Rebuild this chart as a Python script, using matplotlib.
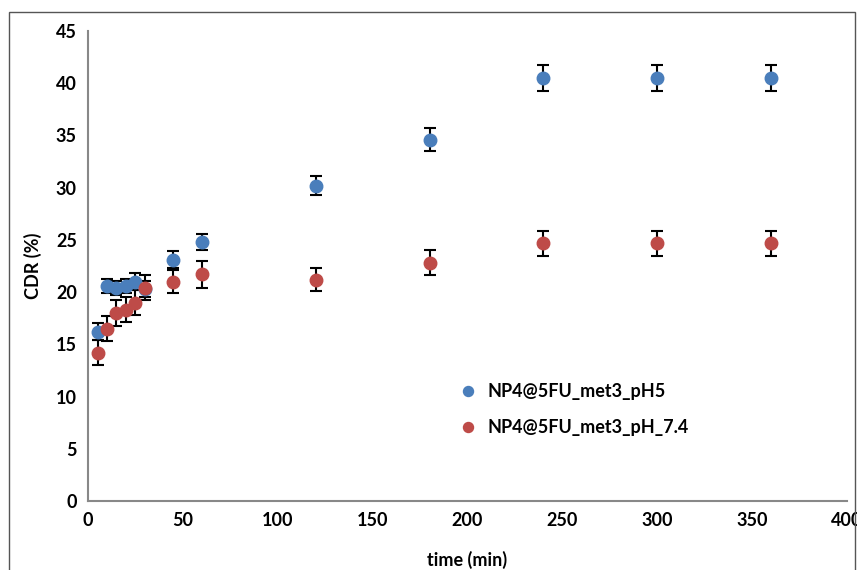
import matplotlib.pyplot as plt
from matplotlib.patches import Rectangle

# data
time = [5, 10, 15, 20, 25, 30, 45, 60, 120, 180, 240, 300, 360]
cdr_ph5 = [16.2, 20.6, 20.4, 20.6, 21.0, 20.3, 23.1, 24.8, 30.2, 34.6, 40.5, 40.5, 40.5]
err_ph5 = [0.8, 0.7, 0.7, 0.7, 0.8, 0.8, 0.8, 0.8, 0.9, 1.1, 1.2, 1.2, 1.2]
cdr_ph74 = [14.2, 16.5, 18.0, 18.3, 19.0, 20.4, 21.0, 21.7, 21.2, 22.8, 24.7, 24.7, 24.7]
err_ph74 = [1.2, 1.2, 1.2, 1.2, 1.2, 1.2, 1.1, 1.3, 1.1, 1.2, 1.2, 1.2, 1.2]

plt.rcParams['font.family'] = ['Lato', 'DejaVu Sans']

fig = plt.figure(figsize=(8.57, 5.70), dpi=100)
ax = fig.add_axes([0.1027, 0.121, 0.8856, 0.8246])

ax.errorbar(time, cdr_ph5, yerr=err_ph5, fmt='o', color='#4a7ebb', ecolor='black',
            elinewidth=1.5, capsize=4, capthick=1.5, markersize=9,
            label='NP4@5FU_met3_pH5')
ax.errorbar(time, cdr_ph74, yerr=err_ph74, fmt='o', color='#be4b48', ecolor='black',
            elinewidth=1.5, capsize=4, capthick=1.5, markersize=9,
            label='NP4@5FU_met3_pH_7.4')

ax.set_xlim(0, 400)
ax.set_ylim(0, 45)
ax.set_xticks(range(0, 401, 50))
ax.set_yticks(range(0, 46, 5))
ax.tick_params(length=0, labelsize=13, pad=8)
for lbl in ax.get_xticklabels() + ax.get_yticklabels():
    lbl.set_fontweight('bold')

for s in ['top', 'right']:
    ax.spines[s].set_visible(False)
for s in ['left', 'bottom']:
    ax.spines[s].set_color('#888888')
    ax.spines[s].set_linewidth(1.5)

ax.set_xlabel('time (min)', fontsize=13, fontweight='bold', labelpad=16)
ax.set_ylabel('CDR (%)', fontsize=13, fontweight='bold', labelpad=10)

handles, labels = ax.get_legend_handles_labels()
handles = [h[0] for h in handles]
ax.legend(handles, labels, loc='upper left', bbox_to_anchor=(0.455, 0.285),
          frameon=False, prop={'weight': 'bold', 'size': 13},
          handletextpad=0.1, labelspacing=1.05, markerscale=0.8)

fig.patches.append(Rectangle((9 / 857, -0.05), 846 / 857, 1 - 12 / 570 + 0.05,
                             transform=fig.transFigure, fill=False,
                             edgecolor='#555555', linewidth=1))

fig.savefig('out.png', dpi=100)
